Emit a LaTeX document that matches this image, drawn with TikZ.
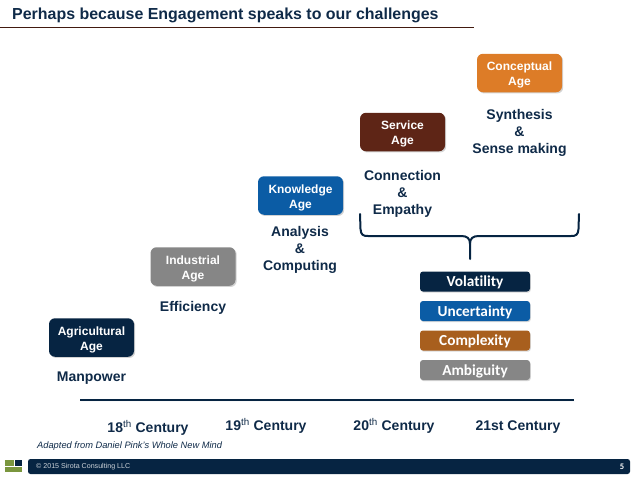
\documentclass[tikz,border=0pt]{standalone}
\usepackage{fontspec}
\setmainfont{Liberation Sans}
\newfontfamily\carlito[Ligatures=NoCommon]{Carlito}
\usetikzlibrary{shadows}
\definecolor{navy}{RGB}{6,36,66}
\definecolor{inkblue}{RGB}{15,42,72}
\definecolor{blue}{RGB}{11,92,165}
\definecolor{orange}{RGB}{221,124,39}
\definecolor{brown}{RGB}{94,37,22}
\definecolor{gray}{RGB}{134,134,134}
\definecolor{copper}{RGB}{168,95,30}
\definecolor{leaf}{RGB}{122,150,62}
\newcommand{\agedrop}{\rule{0pt}{13pt}}
\tikzset{
  agebox/.style={rounded corners=6pt, minimum width=85pt, minimum height=38.5pt, inner sep=0pt,
    align=center, text=white, font=\fontsize{12}{15}\selectfont\bfseries,
    drop shadow={shadow xshift=1.2pt, shadow yshift=-1.2pt, opacity=0.35}},
  vucabox/.style={rounded corners=3pt, minimum width=110pt, minimum height=20pt, inner sep=0pt,
    text height=10.5pt, text depth=0.5pt,
    text=white, font=\carlito\fontsize{15.3}{17}\selectfont\bfseries,
    drop shadow={shadow xshift=0.8pt, shadow yshift=-1.2pt, opacity=0.3}},
  theme/.style={align=center, inner sep=0pt, text=inkblue, font=\fontsize{14}{17}\selectfont\bfseries},
  century/.style={inner sep=0pt, text=inkblue, font=\fontsize{14}{17}\selectfont\bfseries},
}

\begin{document}
\begin{tikzpicture}[x=1pt,y=-1pt]
\useasboundingbox (0,0) rectangle (638,479);

%---------------------------------------
% Title
%---------------------------------------
\node[anchor=west, inner sep=0pt, text=inkblue, font=\fontsize{15.95}{18}\selectfont\bfseries] (title) at (12,15)
  {Perhaps because Engagement speaks to our challenges};
\draw[brown!70!black, line width=0.7pt] (0,27) -- (474,27);

%---------------------------------------
% Ages
%---------------------------------------
\node[agebox, fill=navy]   (agricultural) at (91.5,337.5) {\agedrop Agricultural\\Age};
\node[agebox, fill=gray]   (industrial)   at (193,266.5)  {\agedrop Industrial\\Age};
\node[agebox, fill=blue]   (knowledge)    at (300.5,195.5) {\agedrop Knowledge\\Age};
\node[agebox, fill=brown]  (service)      at (402.5,132)  {\agedrop Service\\Age};
\node[agebox, fill=orange] (conceptual)   at (519.5,73)   {\agedrop Conceptual\\Age};

% What each age asks for
\node[theme] (manpower)   at (91.5,378.5)  {Manpower};
\node[theme] (efficiency) at (193,307.5) {Efficiency};
\node[theme] (analysis)   at (300,250)   {Analysis\\\&\\Computing};
\node[theme] (connection) at (402.5,193.5) {Connection\\\&\\Empathy};
\node[theme] (synthesis)  at (519.5,132.5) {Synthesis\\\&\\Sense making};

%---------------------------------------
% Brace and the four challenges
%---------------------------------------
\draw[navy, line width=2pt, line cap=round]
  (360,214) -- (360.5,229) .. controls (361,235) and (363,236) .. (368,236)
  -- (461,236) .. controls (467,236) and (470,238) .. (470,244) -- (470,259);
\draw[navy, line width=2pt, line cap=round]
  (579,214) -- (578.5,229) .. controls (578,235) and (576,236) .. (571,236)
  -- (479,236) .. controls (473,236) and (470,238) .. (470,244);

\node[vucabox, fill=navy]   (volatility)  at (475,281.5) {Volatility};
\node[vucabox, fill=blue]   (uncertainty) at (475,311)   {Uncertainty};
\node[vucabox, fill=copper] (complexity)  at (475,340.5)  {Complexity};
\node[vucabox, fill=gray]   (ambiguity)   at (475,370)   {Ambiguity};

%---------------------------------------
% Time line
%---------------------------------------
\draw[navy, line width=2pt, drop shadow={shadow xshift=0.5pt, shadow yshift=-1.5pt, opacity=0.3}] (80,400) -- (574,400);

\node[century] (c18) at (148,428) {18\textsuperscript{\mdseries th} Century};
\node[century] (c19) at (266,426) {19\textsuperscript{\mdseries th} Century};
\node[century] (c20) at (394,426) {20\textsuperscript{\mdseries th} Century};
\node[century] (c21) at (518,427) {21st Century};

\node[anchor=west, inner sep=0pt, text=inkblue, font=\fontsize{9.3}{11}\selectfont\itshape] (source) at (37,446)
  {Adapted from Daniel Pink's Whole New Mind};

%---------------------------------------
% Footer
%---------------------------------------
\fill[navy, rounded corners=2.5pt] (28,459) rectangle (630,474);
\node[anchor=west, inner sep=0pt, text=white!80!navy, font=\fontsize{7.1}{9}\selectfont] (copyright) at (36,466.5)
  {© 2015 Sirota Consulting LLC};
\node[inner sep=0pt, text=white, font=\carlito\fontsize{8.5}{10}\selectfont\bfseries] (page) at (622,466.5) {5};

% Logo
\fill[leaf] (5,460) rectangle (13.5,466);
\fill[navy] (14.5,460) rectangle (22,465.5);
\fill[leaf] (5,467) rectangle (22,472);

\end{tikzpicture}
\end{document}
